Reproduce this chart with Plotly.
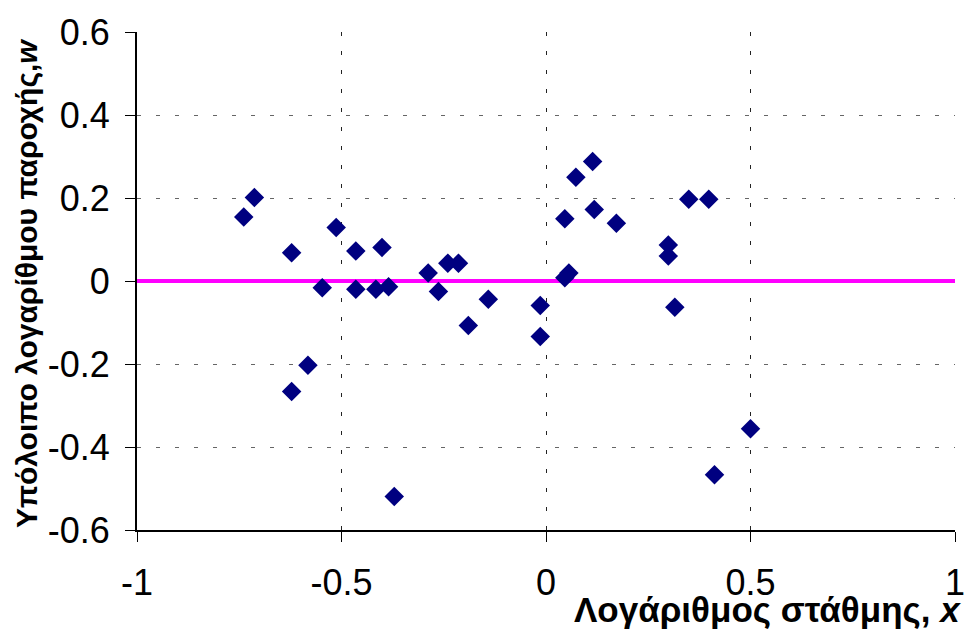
import plotly.graph_objects as go

# Log stage (x) and residual of log discharge (w)
x_vals = [-0.739, -0.713, -0.622, -0.547, -0.513, -0.465, -0.465, -0.416, -0.401, -0.385,
          -0.622, -0.582, -0.371, -0.288, -0.263, -0.240, -0.214, -0.190, -0.141, -0.014,
          -0.014, 0.046, 0.046, 0.056, 0.073, 0.114, 0.118, 0.172, 0.299, 0.299,
          0.315, 0.349, 0.398, 0.412, 0.500]
w_vals = [0.154, 0.201, 0.068, -0.016, 0.129, 0.072, -0.020, -0.020, 0.081, -0.014,
          -0.266, -0.203, -0.519, 0.019, -0.025, 0.043, 0.043, -0.107, -0.044, -0.059,
          -0.134, 0.150, 0.008, 0.019, 0.250, 0.288, 0.172, 0.139, 0.087, 0.060,
          -0.063, 0.197, 0.197, -0.467, -0.356]

zero_x = [-1, 1]
zero_y = [0, 0]

x_ticks = [-1, -0.5, 0, 0.5, 1]
x_tick_text = ["-1", "-0.5", "0", "0.5", "1"]
y_ticks = [-0.6, -0.4, -0.2, 0, 0.2, 0.4, 0.6]
y_tick_text = ["-0.6", "-0.4", "-0.2", "0", "0.2", "0.4", "0.6"]

x_title = "Λογάριθμος στάθμης, <i>x</i>"
y_title = "Υπόλοιπο λογαρίθμου παροχής,<i>w</i>"

L, R, T, B = 137, 14, 22, 107
PW, PH = 977 - L - R, 637 - T - B

fig = go.Figure()
fig.add_trace(go.Scatter(x=zero_x, y=zero_y, mode="lines",
                         line=dict(color="#FF00FF", width=4), hoverinfo="skip",
                         showlegend=False, cliponaxis=False))
fig.add_trace(go.Scatter(x=x_vals, y=w_vals, mode="markers",
                         marker=dict(symbol="diamond", size=15, color="#000080",
                                     line=dict(width=0)),
                         showlegend=False))

tick_font = dict(family="Liberation Sans, Arial, sans-serif", size=36, color="black")

fig.update_layout(
    width=977, height=637,
    margin=dict(l=L, r=R, t=T, b=B),
    paper_bgcolor="white", plot_bgcolor="white",
    xaxis=dict(range=[-1, 1], tickvals=x_ticks, ticktext=x_tick_text,
               showgrid=True, gridcolor="#222222", gridwidth=1, griddash="4px,15px",
               zeroline=False, showline=True, linecolor="black", linewidth=2,
               ticks="outside", ticklen=10, tickcolor="black", tickwidth=1,
               tickfont=tick_font, ticklabelstandoff=10, ticklabeloverflow="allow"),
    yaxis=dict(range=[-0.6, 0.6], tickvals=y_ticks, ticktext=y_tick_text,
               showgrid=True, gridcolor="#666666", gridwidth=1, griddash="4px,15px",
               zeroline=False, showline=True, linecolor="black", linewidth=2,
               ticks="outside", ticklen=10, tickcolor="black", tickwidth=1,
               tickfont=tick_font, ticklabelstandoff=8, ticklabeloverflow="allow"),
    annotations=[
        dict(text="<b>" + x_title + "</b>", xref="paper", yref="paper",
             x=(971 - L) / PW, y=(530 - 611) / PH, xanchor="right", yanchor="middle",
             showarrow=False,
             font=dict(family="Liberation Sans, Arial, sans-serif",
                       size=35, color="black")),
        dict(text="<b>" + y_title + "</b>", xref="paper", yref="paper",
             x=(26 - L) / PW, y=(530 - 279) / PH, xanchor="center", yanchor="middle",
             textangle=-90, showarrow=False,
             font=dict(family="Liberation Sans, Arial, sans-serif", size=30, color="black")),
    ],
)

fig.write_html("out.html")
